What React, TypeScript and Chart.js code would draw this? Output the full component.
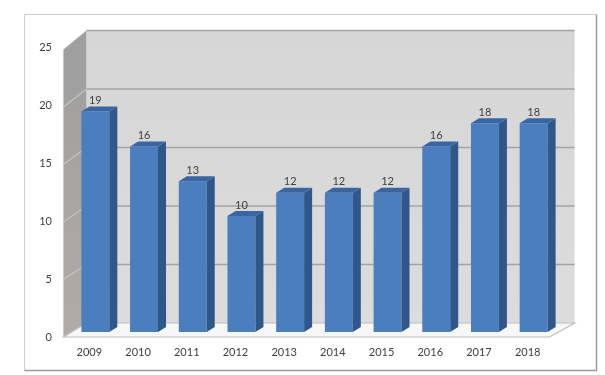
import React, { useEffect, useRef } from "react";
import { Chart, registerables } from "chart.js";

Chart.register(...registerables);

const categories = ["2009", "2010", "2011", "2012", "2013", "2014", "2015", "2016", "2017", "2018"];
const values = [19, 16, 13, 10, 12, 12, 12, 16, 18, 18];
const yMin = 0;
const yMax = 25;
const yStep = 5;

const FONT = "Lato, 'Open Sans', sans-serif";
const TEXT = "#404040";

const scene3d = {
  id: "scene3d",
  beforeDatasetsDraw(chart: any) {
    const { ctx, chartArea } = chart;
    const ys = chart.scales.y;
    const L = chartArea.left;
    const R = chartArea.right;
    const p0 = ys.getPixelForValue(yMin);
    const backY = (v: number) => p0 - 9 - (p0 - ys.getPixelForValue(v)) * 1.0086;
    const frontY = (v: number) => p0 + 5 - (p0 - ys.getPixelForValue(v)) * 0.991;
    const sideFront = L - 7.6;
    const sideBack = L + 15.4;
    const backRight = R + 16.6;
    const floorRight = R - 8.4;
    ctx.save();
    // back wall
    const g = ctx.createLinearGradient(0, backY(yMax), 0, backY(0));
    g.addColorStop(0, "#d6d6d6");
    g.addColorStop(1, "#dcdcdc");
    ctx.fillStyle = g;
    ctx.fillRect(sideBack, backY(yMax), backRight - sideBack, backY(0) - backY(yMax));
    // side wall
    const sg = ctx.createLinearGradient(0, frontY(yMax), 0, frontY(0));
    sg.addColorStop(0, "#9f9f9f");
    sg.addColorStop(1, "#b2aba7");
    ctx.fillStyle = sg;
    ctx.beginPath();
    ctx.moveTo(sideFront, frontY(yMax));
    ctx.lineTo(sideBack, backY(yMax));
    ctx.lineTo(sideBack, backY(0));
    ctx.lineTo(sideFront, frontY(0));
    ctx.closePath();
    ctx.fill();
    // grid lines
    for (let v = yMin; v <= yMax; v += yStep) {
      ctx.strokeStyle = "#a3a3a3";
      ctx.lineWidth = 1.5;
      if (v > 0) {
        ctx.beginPath();
        ctx.moveTo(sideBack, backY(v));
        ctx.lineTo(backRight, backY(v));
        ctx.stroke();
      }
      ctx.strokeStyle = "#c4c4c4";
      ctx.lineWidth = 1.2;
      if (v > 0 && v < yMax) {
        ctx.beginPath();
        ctx.moveTo(sideFront, frontY(v));
        ctx.lineTo(sideBack, backY(v));
        ctx.stroke();
      }
    }
    // floor
    ctx.fillStyle = "#f7f7f7";
    ctx.strokeStyle = "#bdbdbd";
    ctx.lineWidth = 1.2;
    ctx.beginPath();
    ctx.moveTo(sideFront, frontY(0));
    ctx.lineTo(sideBack, backY(0));
    ctx.lineTo(backRight, backY(0));
    ctx.lineTo(floorRight, frontY(0));
    ctx.closePath();
    ctx.fill();
    ctx.stroke();
    ctx.restore();
  },
  afterDatasetsDraw(chart: any) {
    const { ctx } = chart;
    const meta = chart.getDatasetMeta(0);
    const dx = 8;
    const dy = 5;
    ctx.save();
    meta.data.forEach((bar: any, i: number) => {
      const { x, y, base, width } = bar.getProps(["x", "y", "base", "width"], true);
      const l = x - width / 2;
      const r = x + width / 2;
      // side face
      ctx.fillStyle = "#2f578a";
      ctx.beginPath();
      ctx.moveTo(r, y);
      ctx.lineTo(r + dx, y - dy);
      ctx.lineTo(r + dx, base - dy);
      ctx.lineTo(r, base);
      ctx.closePath();
      ctx.fill();
      // top face
      ctx.fillStyle = "#3966a3";
      ctx.beginPath();
      ctx.moveTo(l, y);
      ctx.lineTo(l + dx, y - dy);
      ctx.lineTo(r + dx, y - dy);
      ctx.lineTo(r, y);
      ctx.closePath();
      ctx.fill();
      // label
      ctx.fillStyle = TEXT;
      ctx.font = `11px ${FONT}`;
      ctx.textAlign = "center";
      ctx.textBaseline = "middle";
      ctx.fillText(String(values[i]), x, y - 11);
    });
    ctx.restore();
  },
};

const frame = {
  id: "frame",
  beforeDraw(chart: any) {
    const { ctx } = chart;
    ctx.save();
    ctx.fillStyle = "#ffffff";
    ctx.fillRect(0, 0, chart.width, chart.height);
    ctx.lineWidth = 1;
    ctx.strokeStyle = "#cfcfcf";
    ctx.beginPath();
    ctx.moveTo(24.5, 370.5);
    ctx.lineTo(24.5, 14.5);
    ctx.lineTo(596.5, 14.5);
    ctx.stroke();
    ctx.strokeStyle = "#9a9a9a";
    ctx.lineWidth = 1.5;
    ctx.beginPath();
    ctx.moveTo(596.5, 14.5);
    ctx.lineTo(596.5, 370.5);
    ctx.lineTo(24.5, 370.5);
    ctx.stroke();
    ctx.restore();
  },
};

export default function App() {
  const ref = useRef<HTMLCanvasElement | null>(null);
  useEffect(() => {
    if (!ref.current) return;
    const chart = new Chart(ref.current, {
      type: "bar",
      data: {
        labels: categories,
        datasets: [
          {
            data: values,
            backgroundColor: "#4a7ebd",
            borderWidth: 0,
            categoryPercentage: 1,
            barPercentage: 0.574,
          },
        ],
      },
      options: {
        responsive: false,
        animation: false,
        layout: { padding: { left: 0, right: 47, top: 42, bottom: 0 } },
        plugins: { legend: { display: false }, tooltip: { enabled: false } },
        scales: {
          x: {
            grid: { display: false, drawTicks: false },
            border: { display: false },
            ticks: { color: TEXT, font: { family: FONT, size: 11 }, padding: 14, labelOffset: -6, maxRotation: 0 },
            afterFit: (s: any) => {
              s.height = 43;
            },
          },
          y: {
            min: yMin,
            max: yMax,
            grid: { display: false, drawTicks: false },
            border: { display: false },
            ticks: { stepSize: yStep, color: TEXT, font: { family: FONT, size: 11 }, padding: 19, labelOffset: 5 },
            afterFit: (s: any) => {
              s.width = 71;
            },
          },
        },
      },
      plugins: [frame, scene3d],
    });
    return () => chart.destroy();
  }, []);
  return (
    <div style={{ position: "absolute", left: 0, top: 0, width: 605, height: 375 }}>
      <canvas ref={ref} width={605} height={375} />
    </div>
  );
}
